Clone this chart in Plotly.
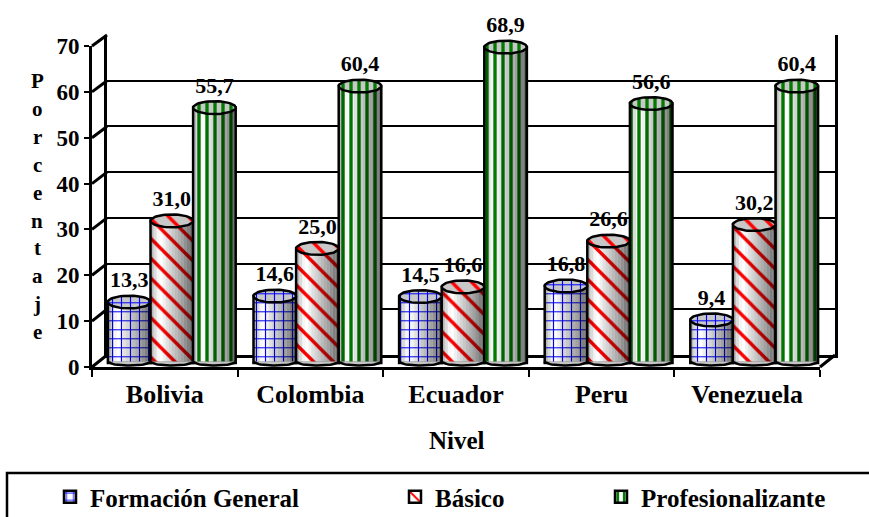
import numpy as np
import plotly.graph_objects as go

W, H = 869, 517

CATEGORIES = ["Bolivia", "Colombia", "Ecuador", "Peru", "Venezuela"]
FORMACION = [13.3, 14.6, 14.5, 16.8, 9.4]
BASICO = [31.0, 25.0, 16.6, 26.6, 30.2]
PROFESIONAL = [55.7, 60.4, 68.9, 56.6, 60.4]

SERIES = [
    ("Formación General", FORMACION, "+", "#0000ff", 9, 0.24),
    ("Básico", BASICO, "\\", "#ff0000", 14, 0.24),
    ("Profesionalizante", PROFESIONAL, "|", "#007a00", 8, 0.42),
]
YTICKS = [0, 10, 20, 30, 40, 50, 60, 70]
YTITLE = "Porcentaje"

# Darkening across a cylinder, left to right, for the rounded look
SHADE = [0.28, 0.14, 0.04, 0.0, 0.06, 0.12, 0.17, 0.22, 0.27, 0.32, 0.37, 0.43, 0.5, 0.56]

FONT = "Liberation Serif"
BAR_W = 0.2926
ELLIPSE_RY = 1.4
BOTTOM_RY = 0.9


def px(x):
    return x / W


def py(y):
    return 1 - y / H


def hdom(a, b):
    return [px(a), px(b)]


def vdom(top, bottom):
    return [py(bottom), py(top)]


FRONT = dict(left=92, right=820, top=46, bottom=367)
BACK = dict(left=107, right=835, top=35, bottom=355)
BAR_SHIFT = 7
BAR_ZERO, BAR_SCALE = 363, 4.585
BAR_YMIN, BAR_YMAX = -3, 73

fig = go.Figure()

# Plotly only renders axes that carry a trace, so each frame gets an empty one
fig.add_trace(go.Scatter(x=[0, 5], y=[0, 70], mode="none", xaxis="x", yaxis="y",
                         showlegend=False, hoverinfo="skip"))
fig.add_trace(go.Scatter(x=[0, 5], y=[0, 70], mode="none", xaxis="x2", yaxis="y2",
                         showlegend=False, hoverinfo="skip"))

for k, (name, values, shape, color, size, solidity) in enumerate(SERIES):
    offset = (k - 1.5) * BAR_W
    centers = np.arange(len(CATEGORIES)) + 0.5
    fig.add_trace(go.Bar(
        x=centers, y=values, width=BAR_W, offset=offset, name=name,
        xaxis="x3", yaxis="y3", legend="legend" if k == 0 else f"legend{k + 1}",
        marker=dict(
            color="white", line=dict(color="black", width=2.5),
            pattern=dict(shape=shape, fgcolor=color, bgcolor="white", size=size,
                         solidity=solidity, fillmode="replace"),
        ),
    ))
    # Narrow translucent strips shade the body of each cylinder
    strip = BAR_W / len(SHADE)
    for j, alpha in enumerate(SHADE):
        if alpha == 0:
            continue
        fig.add_trace(go.Bar(
            x=centers, y=values, width=strip, offset=offset + j * strip,
            xaxis="x3", yaxis="y3", showlegend=False, hoverinfo="skip",
            marker=dict(color=f"rgba(0,0,0,{alpha})", line=dict(width=0)),
        ))

t = np.linspace(0, 2 * np.pi, 61)
rx = BAR_W / 2
for k, (name, values, shape, color, size, solidity) in enumerate(SERIES):
    cx_offset = (k - 1) * BAR_W
    # Curved bottom edge, then the lid of each cylinder
    xs, ys = [], []
    for i in range(len(values)):
        xs += list(i + 0.5 + cx_offset + rx * np.cos(t[:31])) + [None]
        ys += list(0.35 - BOTTOM_RY * np.sin(t[:31])) + [None]
    fig.add_trace(go.Scatter(
        x=xs, y=ys, mode="lines", fill="toself", xaxis="x3", yaxis="y3",
        line=dict(color="black", width=2.5), fillcolor="#c4c4c4",
        showlegend=False, hoverinfo="skip", cliponaxis=False,
    ))
    xs, ys = [], []
    for i, v in enumerate(values):
        xs += list(i + 0.5 + cx_offset + rx * np.cos(t)) + [None]
        ys += list(v + ELLIPSE_RY * np.sin(t)) + [None]
    fig.add_trace(go.Scatter(
        x=xs, y=ys, mode="lines", fill="toself", xaxis="x3", yaxis="y3",
        line=dict(color="black", width=2.5),
        fillpattern=dict(shape=shape, fgcolor=color, bgcolor="#c8c8c8", size=size,
                         solidity=solidity, fillmode="replace"),
        showlegend=False, hoverinfo="skip", cliponaxis=False,
    ))

for k, (name, values, *_rest) in enumerate(SERIES):
    fig.add_trace(go.Scatter(
        x=[i + 0.5 + (k - 1) * BAR_W for i in range(len(values))],
        y=[v + 2.0 for v in values],
        text=[f"<b>{v:.1f}</b>".replace(".", ",") for v in values],
        mode="text", textposition="top center", xaxis="x3", yaxis="y3",
        textfont=dict(family=FONT, size=22, color="black"),
        showlegend=False, hoverinfo="skip", cliponaxis=False,
    ))

# Side walls and floor edges joining the front axes to the back wall
shapes = []
scale_f = (FRONT["bottom"] - FRONT["top"]) / 70
scale_b = (BACK["bottom"] - BACK["top"]) / 70
for v in YTICKS:
    shapes.append(dict(
        type="line", xref="paper", yref="paper", layer="below",
        x0=px(FRONT["left"]), y0=py(FRONT["bottom"] - v * scale_f),
        x1=px(BACK["left"]), y1=py(BACK["bottom"] - v * scale_b),
        line=dict(color="black", width=3),
    ))
shapes.append(dict(
    type="line", xref="paper", yref="paper", layer="below",
    x0=px(FRONT["right"]), y0=py(FRONT["bottom"]),
    x1=px(BACK["right"]), y1=py(BACK["bottom"]),
    line=dict(color="black", width=3),
))
# Legend frame: its right and bottom edges run off the page
shapes.append(dict(
    type="rect", xref="paper", yref="paper",
    x0=px(7), y0=py(530), x1=px(885), y1=py(473),
    line=dict(color="black", width=2.5), fillcolor="rgba(0,0,0,0)",
))

# The title letters run down the axis, one per row
annotations = [
    dict(text=f"<b>{ch}</b>", x=px(37), y=py(81 + i * 27.9), xref="paper", yref="paper",
         showarrow=False, xanchor="center", yanchor="middle",
         font=dict(family=FONT, size=21, color="black"))
    for i, ch in enumerate(YTITLE)
]
annotations.append(dict(
    text="<b>Nivel</b>", x=px(457), y=py(440), xref="paper", yref="paper",
    showarrow=False, xanchor="center", yanchor="middle",
    font=dict(family=FONT, size=25, color="black"),
))

legend_common = dict(
    orientation="h", xanchor="left", yanchor="middle", y=py(497),
    bgcolor="rgba(0,0,0,0)", itemwidth=30, itemclick=False, itemdoubleclick=False,
    font=dict(family=FONT, size=25, color="black", weight="bold"),
)

fig.update_layout(
    width=W, height=H, margin=dict(l=0, r=0, t=0, b=0, pad=0, autoexpand=False),
    paper_bgcolor="white", plot_bgcolor="rgba(0,0,0,0)",
    barmode="overlay", shapes=shapes, annotations=annotations,
    showlegend=True,
    legend=dict(x=px(50), **legend_common),
    legend2=dict(x=px(395), **legend_common),
    legend3=dict(x=px(601), **legend_common),
    xaxis=dict(
        domain=hdom(FRONT["left"], FRONT["right"]), range=[0, 5], anchor="y",
        tickvals=[i + 0.5 for i in range(5)], ticktext=[f"<b>{c}</b>" for c in CATEGORIES],
        ticks="", showgrid=False, zeroline=False, showline=True,
        linecolor="black", linewidth=3, ticklabelstandoff=2,
        tickfont=dict(family=FONT, size=26, color="black"),
        minor=dict(tickvals=list(range(6)), ticks="outside", ticklen=7, tickwidth=2,
                   tickcolor="black", showgrid=False),
    ),
    yaxis=dict(
        domain=vdom(FRONT["top"], FRONT["bottom"]), range=[0, 70], anchor="x",
        tickvals=YTICKS, ticktext=[f"<b>{v}</b>" for v in YTICKS],
        ticks="outside", ticklen=5, tickwidth=2, tickcolor="black",
        showgrid=False, zeroline=False, showline=True, linecolor="black", linewidth=3,
        tickfont=dict(family=FONT, size=23, color="black"),
    ),
    xaxis2=dict(
        domain=hdom(BACK["left"], BACK["right"]), range=[0, 5], anchor="y2",
        showticklabels=False, ticks="", showgrid=False, zeroline=False,
        showline=True, linecolor="black", linewidth=3,
    ),
    yaxis2=dict(
        domain=vdom(BACK["top"], BACK["bottom"]), range=[0, 70], anchor="x2",
        tickvals=YTICKS, showticklabels=False, ticks="", showgrid=True,
        gridcolor="black", gridwidth=2, zeroline=False,
        showline=True, mirror=True, linecolor="black", linewidth=3,
    ),
    xaxis3=dict(
        domain=hdom(FRONT["left"] + BAR_SHIFT, FRONT["right"] + BAR_SHIFT), range=[0, 5],
        anchor="y3", visible=False,
    ),
    yaxis3=dict(
        domain=vdom(BAR_ZERO - BAR_YMAX * BAR_SCALE, BAR_ZERO - BAR_YMIN * BAR_SCALE),
        range=[BAR_YMIN, BAR_YMAX], anchor="x3", visible=False,
    ),
)

fig.write_html("out.html")
